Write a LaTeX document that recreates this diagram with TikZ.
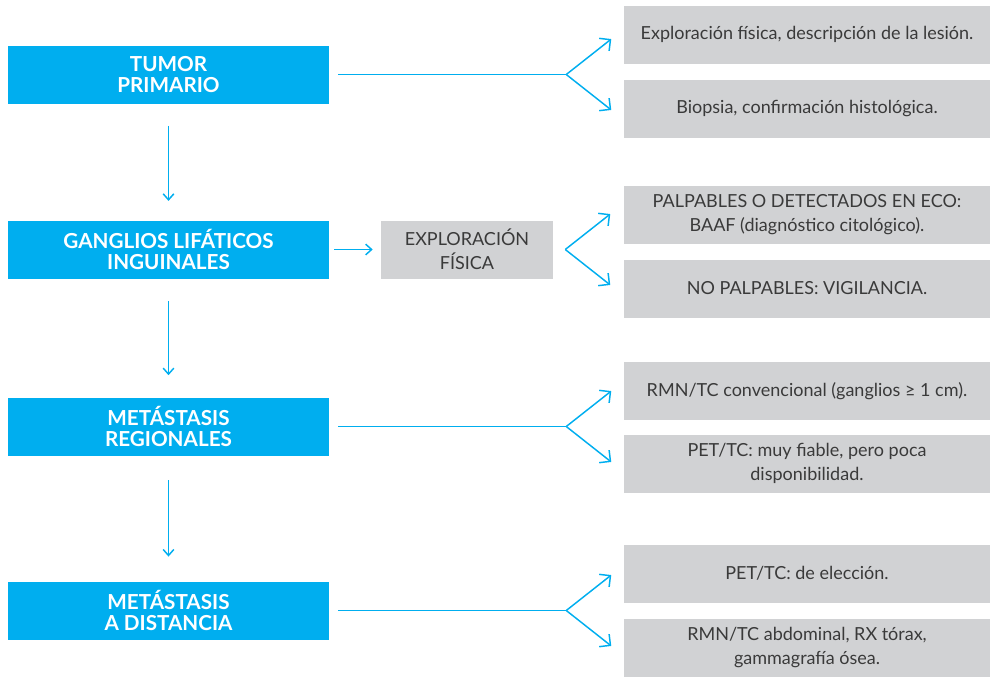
\documentclass[tikz,border=0pt]{standalone}
\usepackage{fontspec}
\setmainfont{Lato}
\usetikzlibrary{arrows.meta, positioning}

\definecolor{stageblue}{HTML}{00AEEF}
\definecolor{testgrey}{HTML}{D1D2D4}
\definecolor{textgrey}{HTML}{3A3A3A}

\begin{document}
\begin{tikzpicture}[x=0.75pt, y=-0.75pt]
		\tikzset{
			every node/.style={
				align=center,
				inner sep=0pt,
				minimum height=43.5pt
			},
			stage/.style={
				rectangle,
				fill=stageblue,
				text=white,
				minimum width=240.75pt,
				font=\bfseries\fontsize{15.5}{16}\selectfont
			},
			exam/.style={
				rectangle,
				fill=testgrey,
				text=textgrey,
				minimum width=129pt,
				font=\fontsize{13.5}{18}\selectfont
			},
			finding/.style={
				rectangle,
				fill=testgrey,
				text=textgrey,
				minimum width=274.5pt,
				font=\fontsize{13.5}{18}\selectfont
			},
			stem/.style={
				draw=stageblue,
				line width=1.1pt
			},
			line/.style={
				stem,
				>={Straight Barb[length=4.5pt, width=8pt]},
				->
			},
			fork/.style={
				stem,
				>={Straight Barb[length=6pt, width=12pt]},
				->
			}
		}
		\useasboundingbox (0, 0) rectangle (990, 697);

		\node[stage] (tumor) at (168.5, 74.5)
			{TUMOR\\PRIMARIO};
		\node[stage] (ganglios) at (168.5, 249.5)
			{GANGLIOS LIFÁTICOS\\INGUINALES};
		\node[stage] (regional) at (168.5, 426.5)
			{METÁSTASIS\\REGIONALES};
		\node[stage] (distancia) at (168.5, 610.5)
			{METÁSTASIS\\A DISTANCIA};

		\node[exam] (explor) at (467, 249.5)
			{EXPLORACIÓN\\FÍSICA};

		\node[finding] (fisica) at (807, 34.5)
			{Exploración física, descripción de la lesión.};
		\node[finding] (biopsia) at (807, 108.5)
			{Biopsia, confirmación histológica.};

		\node[finding] (baaf) at (807, 214.5)
			{PALPABLES O DETECTADOS EN ECO:\\BAAF (diagnóstico citológico).};
		\node[finding] (vigilancia) at (807, 288.5)
			{NO PALPABLES: VIGILANCIA.};

		\node[finding] (rmn) at (807, 391)
			{RMN/TC convencional (ganglios ≥ 1 cm).};
		\node[finding] (pet) at (807, 463.5)
			{PET/TC: muy fiable, pero poca\\disponibilidad.};

		\node[finding] (eleccion) at (807, 573.5)
			{PET/TC: de elección.};
		\node[finding] (extension) at (807, 647.5)
			{RMN/TC abdominal, RX tórax,\\gammagrafía ósea.};

		% fork points
		\coordinate[right=177.75pt of tumor] (split1);
		\coordinate[right=9pt of explor] (split2);
		\coordinate[right=177.75pt of regional] (split3);
		\coordinate[right=177.75pt of distancia] (split4);

		\coordinate[above right=26.6pt and 33.75pt of split1] (tip1a);
		\coordinate[below right=26.6pt and 33.75pt of split1] (tip1b);
		\coordinate[above right=26.6pt and 33.75pt of split2] (tip2a);
		\coordinate[below right=26.6pt and 33.75pt of split2] (tip2b);
		\coordinate[above right=26.6pt and 33.75pt of split3] (tip3a);
		\coordinate[below right=26.6pt and 33.75pt of split3] (tip3b);
		\coordinate[above right=26.6pt and 33.75pt of split4] (tip4a);
		\coordinate[below right=26.6pt and 33.75pt of split4] (tip4b);

		\draw[line, shorten <=16.5pt, shorten >=14.5pt] (tumor) -- (ganglios);
		\draw[line, shorten <=16.5pt, shorten >=16.5pt] (ganglios) -- (regional);
		\draw[line, shorten <=18.5pt, shorten >=18.5pt] (regional) -- (distancia);

		\draw[line, shorten <=3.75pt, shorten >=6pt] (ganglios) -- (explor);

		\draw[stem, shorten <=6.75pt] (tumor) -- (split1);
		\draw[stem, shorten <=6.75pt] (regional) -- (split3);
		\draw[stem, shorten <=6.75pt] (distancia) -- (split4);

		\draw[fork] (split1) -- (tip1a);
		\draw[fork] (split1) -- (tip1b);
		\draw[fork] (split2) -- (tip2a);
		\draw[fork] (split2) -- (tip2b);
		\draw[fork] (split3) -- (tip3a);
		\draw[fork] (split3) -- (tip3b);
		\draw[fork] (split4) -- (tip4a);
		\draw[fork] (split4) -- (tip4b);

	\end{tikzpicture}
\end{document}
